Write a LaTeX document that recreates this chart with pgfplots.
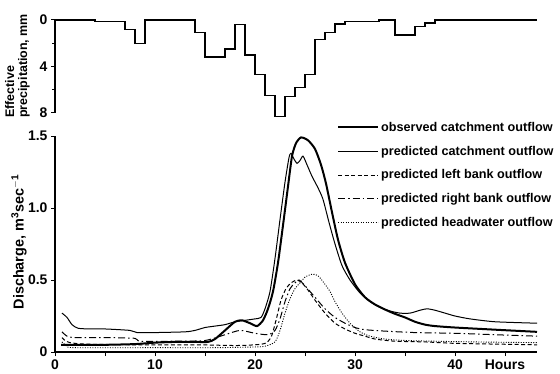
\documentclass[border=0pt]{standalone}
\usepackage{pgfplots}
\pgfplotsset{compat=1.18}
\usepackage{fontspec}
\setmainfont{Liberation Sans}
\newcommand{\legfont}{\bfseries\fontsize{12.7}{14}\selectfont}
\newcommand{\tickfont}{\bfseries\fontsize{14}{16}\selectfont}
\newcommand{\toplabfont}{\bfseries\fontsize{12.5}{13}\selectfont}
\newcommand{\dislabfont}{\bfseries\fontsize{14.5}{16}\selectfont}
\begin{document}
\begin{tikzpicture}[x=1bp,y=1bp]
\path[use as bounding box] (0,0) rectangle (560,373);
% ---------- top panel: effective precipitation ----------
\begin{axis}[
  at={(55bp,260bp)}, anchor=south west,
  scale only axis, width=482bp, height=93bp,
  xmin=0, xmax=48.2, ymin=0, ymax=8, y dir=reverse,
  clip=false,
  axis x line=none, axis y line=left,
  axis line style={-, line width=1.2bp},
  ytick={0,4,8}, yticklabels={0,4,8},
  minor ytick={2,6},
  tick align=outside,
  major tick length=4bp, minor tick length=3bp,
  tick style={line width=1bp, black},
  yticklabel style={font=\tickfont},
]
\addplot[const plot, line width=1.4bp, black] coordinates {
(0,0) (4,0.15) (7,0.8) (8,2.0) (9,0) (14,1.1) (15,3.2) (16,3.2) (17,2.5)
(18,0.4) (19,3.0) (20,4.7) (21,6.5) (22,8.3) (23,6.6) (24,5.8) (25,4.7)
(26,1.7) (27,1.1) (28,0.35) (29,0.12) (32.4,0) (34,1.3) (36,0.58) (37,0.25)
(38,0) (48.2,0)};
\end{axis}
\node[rotate=90, anchor=north west, align=left, font=\toplabfont, inner sep=0pt] at (5,255)
  {Effective\\precipitation, mm};
% ---------- bottom panel: discharge ----------
\begin{axis}[
  at={(55bp,21bp)}, anchor=south west,
  scale only axis, width=482bp, height=216bp,
  xmin=0, xmax=48.2, ymin=0, ymax=1.5,
  axis x line=bottom, axis y line=left,
  axis line style={-, line width=1.2bp},
  xtick={0,5,...,45}, xticklabels={0,,10,,20,,30,,40,Hours},
  ytick={0,0.5,1,1.5}, yticklabels={0,0.5,1.0,1.5},
  tick align=outside, major tick length=4bp,
  tick style={line width=1bp, black},
  xticklabel style={font=\tickfont},
  yticklabel style={font=\tickfont},
  legend style={draw=none, fill=none, at={(0.585,1.075)}, anchor=north west,
    font=\legfont, row sep=9.2bp, inner sep=0pt},
  legend cell align=left,
  legend image code/.code={\draw[#1] (0bp,0bp) -- (40bp,0bp);},
]
\addplot[black, line width=2bp, smooth, tension=0.4] coordinates {
(0.6,0.05) (2,0.05) (5,0.05) (8,0.055) (10,0.065) (12,0.07) (14,0.07) (15.3,0.07)
(16,0.09) (17,0.15) (18,0.21) (18.7,0.22) (19.5,0.2) (20.2,0.18) (20.8,0.22)
(21.3,0.3) (21.8,0.42) (22.3,0.62) (22.8,0.88) (23.3,1.15) (23.7,1.36) (24.1,1.45)
(24.6,1.49) (25.3,1.47) (26,1.41) (26.6,1.3) (27.1,1.17) (27.7,0.97) (28.3,0.78)
(29,0.62) (30,0.47) (31,0.38) (32,0.33) (33,0.295) (34,0.265) (35,0.24) (36,0.21)
(37,0.19) (38,0.18) (40,0.17) (44,0.155) (48.2,0.14)};
\addlegendentry{observed catchment outflow}
\addplot[black, line width=1bp, smooth, tension=0.4] coordinates {
(0.7,0.27) (1.2,0.24) (1.7,0.19) (2.3,0.165) (3.5,0.16) (5,0.16) (7.5,0.15)
(8.2,0.135) (10,0.135) (13,0.14) (14,0.15) (15,0.17) (16,0.18) (17,0.19) (18,0.21)
(19,0.22) (20,0.23) (20.6,0.24) (21,0.3) (21.5,0.42) (22,0.65) (22.5,0.92)
(23,1.18) (23.4,1.35) (23.6,1.38) (23.9,1.34) (24.2,1.31) (24.5,1.33) (24.8,1.36)
(25.2,1.3) (25.7,1.22) (26.3,1.14) (26.8,1.06) (27.4,0.9) (28,0.75) (28.7,0.6)
(29.5,0.5) (30.5,0.41) (31.5,0.35) (32.5,0.31) (33.5,0.285) (34.5,0.27) (35.5,0.27)
(36.5,0.29) (37.2,0.3) (38,0.29) (39,0.27) (40,0.25) (41.5,0.23) (44,0.21) (48.2,0.2)};
\addlegendentry{predicted catchment outflow}
\addplot[black, line width=1bp, dash pattern=on 4bp off 2.5bp, smooth, tension=0.4] coordinates {
(0.7,0.1) (1,0.08) (1.5,0.065) (3,0.055) (8,0.05) (14,0.05) (18,0.045) (20,0.05)
(21,0.06) (21.6,0.1) (22.1,0.22) (22.6,0.36) (23.1,0.44) (23.6,0.48) (24.2,0.5)
(24.7,0.48) (25.3,0.43) (26,0.36) (27,0.27) (28,0.2) (29,0.16) (30,0.13) (31,0.11)
(32,0.09) (34,0.075) (37,0.07) (40,0.06) (44,0.055) (48.2,0.05)};
\addlegendentry{predicted left bank outflow}
\addplot[black, line width=1bp, dash pattern=on 7bp off 3bp on 1.5bp off 3bp, smooth, tension=0.4] coordinates {
(0.7,0.14) (1.2,0.11) (2,0.1) (5,0.1) (8,0.095) (8.5,0.075) (12,0.075) (15,0.08)
(17,0.12) (18.5,0.15) (20,0.13) (21.3,0.12) (22,0.15) (22.5,0.23) (23,0.35)
(23.5,0.44) (24,0.48) (24.4,0.5) (25,0.46) (26,0.38) (27,0.3) (28,0.24) (29,0.2)
(30,0.17) (31,0.155) (33,0.145) (36,0.135) (40,0.13) (44,0.12) (48.2,0.11)};
\addlegendentry{predicted right bank outflow}
\addplot[black, line width=0.9bp, dash pattern=on 1bp off 1.5bp, smooth, tension=0.4] coordinates {
(0.7,0.07) (1.2,0.04) (2,0.03) (10,0.03) (16,0.03) (20,0.035) (21,0.04) (22,0.07)
(22.5,0.15) (23,0.27) (23.5,0.37) (24,0.44) (24.5,0.48) (25,0.52) (25.7,0.54)
(26.3,0.53) (27,0.47) (27.5,0.42) (28,0.35) (28.7,0.27) (29.5,0.2) (30.5,0.14)
(31.5,0.11) (33,0.09) (35,0.08) (38,0.075) (42,0.07) (48.2,0.065)};
\addlegendentry{predicted headwater outflow}
\end{axis}
\node[rotate=90, font=\dislabfont] at (19,131) {Discharge, m$^{\mathbf{3}}$sec$^{\mathbf{-1}}$};
\end{tikzpicture}
\end{document}
